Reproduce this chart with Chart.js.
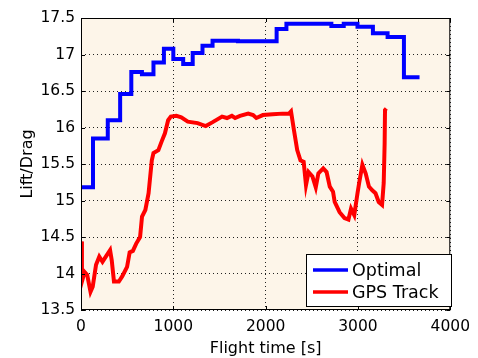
<!DOCTYPE html>
<html>
<head>
<meta charset="utf-8">
<script src="https://cdn.jsdelivr.net/npm/chart.js@4"></script>
<style>
  html, body { margin: 0; padding: 0; background: #ffffff; }
  #wrap { width: 478px; height: 358px; }
</style>
</head>
<body>
<div id="wrap"><canvas id="ldChart" width="478" height="358"></canvas></div>
<script>
// Optimal L/D schedule (step profile)
const optimalTime = [0, 130, 290, 424, 545, 660, 785, 898, 1000, 1107, 1210, 1316, 1425, 1700, 2119, 2225, 2712, 2846, 2995, 3162, 3321, 3498, 3667];
const optimalRatio = [15.18, 15.85, 16.10, 16.46, 16.76, 16.73, 16.89, 17.08, 16.94, 16.87, 17.02, 17.12, 17.19, 17.18, 17.35, 17.42, 17.39, 17.42, 17.38, 17.29, 17.24, 16.69, 16.69];

// L/D estimated from the GPS track
const gpsTime = [3, 10, 39, 67, 103, 127, 163, 198, 233, 269, 315, 333, 357, 410, 446, 499, 527, 562, 598, 640, 661, 697, 732, 767, 785, 838, 874, 909, 944, 973, 1033, 1086, 1157, 1263, 1351, 1422, 1528, 1581, 1634, 1669, 1722, 1811, 1864, 1899, 1970, 2076, 2182, 2253, 2275, 2306, 2342, 2377, 2412, 2437, 2465, 2507, 2543, 2571, 2624, 2660, 2695, 2730, 2748, 2801, 2854, 2897, 2925, 2960, 2995, 3013, 3048, 3084, 3119, 3155, 3190, 3225, 3261, 3279, 3289, 3293, 3307];
const gpsRatio = [14.44, 13.89, 14.02, 13.98, 13.75, 13.82, 14.12, 14.23, 14.16, 14.23, 14.32, 14.18, 13.89, 13.89, 13.96, 14.09, 14.29, 14.31, 14.41, 14.50, 14.78, 14.87, 15.10, 15.55, 15.65, 15.69, 15.81, 15.92, 16.10, 16.15, 16.16, 16.14, 16.08, 16.06, 16.02, 16.07, 16.15, 16.13, 16.16, 16.13, 16.16, 16.19, 16.17, 16.13, 16.17, 16.18, 16.19, 16.19, 16.22, 15.97, 15.69, 15.55, 15.53, 15.21, 15.39, 15.33, 15.18, 15.37, 15.44, 15.39, 15.19, 15.12, 14.98, 14.84, 14.76, 14.74, 14.89, 14.80, 15.10, 15.24, 15.49, 15.37, 15.19, 15.14, 15.10, 14.98, 14.94, 15.24, 15.78, 16.24, 16.26];

const xTickValues = [0, 1000, 2000, 3000, 4000];
const yTickValues = [13.5, 14, 14.5, 15, 15.5, 16, 16.5, 17, 17.5];

const FONT = '"DejaVu Sans", sans-serif';

const toPoints = (xs, ys) => xs.map((x, i) => ({ x: x, y: ys[i] }));

// beige plot area behind the grid
const plotBackground = {
    id: 'plotBackground',
    beforeDraw(chart) {
        const { ctx, chartArea: a } = chart;
        ctx.save();
        ctx.fillStyle = '#fdf5e9';
        ctx.fillRect(a.left, a.top, a.right - a.left, a.bottom - a.top);
        ctx.restore();
    }
};

// black frame with inward tick marks, and the boxed legend in the lower right
const frameAndLegend = {
    id: 'frameAndLegend',
    afterDatasetsDraw(chart) {
        const { ctx, chartArea: a, scales } = chart;
        ctx.save();
        ctx.strokeStyle = '#000';
        ctx.lineWidth = 1;
        ctx.strokeRect(a.left + 0.5, a.top + 0.5, a.right - a.left - 1, a.bottom - a.top - 1);
        const len = 4;
        ctx.beginPath();
        xTickValues.forEach(v => {
            const px = Math.round(scales.x.getPixelForValue(v)) + 0.5;
            ctx.moveTo(px, a.bottom); ctx.lineTo(px, a.bottom - len);
            ctx.moveTo(px, a.top); ctx.lineTo(px, a.top + len);
        });
        yTickValues.forEach(v => {
            const py = Math.round(scales.y.getPixelForValue(v)) + 0.5;
            ctx.moveTo(a.left, py); ctx.lineTo(a.left + len, py);
            ctx.moveTo(a.right, py); ctx.lineTo(a.right - len, py);
        });
        ctx.stroke();

        // legend box
        const bx = 306, by = 254, bw = 145, bh = 52;
        ctx.fillStyle = '#fff';
        ctx.fillRect(bx, by, bw, bh);
        ctx.strokeRect(bx + 0.5, by + 0.5, bw, bh);
        ctx.font = '17.5px ' + FONT;
        ctx.textBaseline = 'middle';
        ctx.textAlign = 'left';
        chart.data.datasets.forEach((ds, i) => {
            const y = by + 16 + i * 22;
            ctx.strokeStyle = ds.borderColor;
            ctx.lineWidth = 3.5;
            ctx.beginPath();
            ctx.moveTo(bx + 7, y);
            ctx.lineTo(bx + 42, y);
            ctx.stroke();
            ctx.fillStyle = '#000';
            ctx.fillText(ds.label, bx + 46, y + 1);
        });
        ctx.restore();
    }
};

new Chart(document.getElementById('ldChart'), {
    type: 'line',
    data: {
        datasets: [
            {
                label: 'Optimal',
                data: toPoints(optimalTime, optimalRatio),
                borderColor: '#0000ff',
                borderWidth: 4,
                stepped: 'before',
                pointRadius: 0,
                fill: false
            },
            {
                label: 'GPS Track',
                data: toPoints(gpsTime, gpsRatio),
                borderColor: '#ff0000',
                borderWidth: 4,
                pointRadius: 0,
                tension: 0,
                fill: false
            }
        ]
    },
    options: {
        responsive: false,
        animation: false,
        layout: { padding: { top: 18, right: 20, left: 0, bottom: 0 } },
        plugins: {
            legend: { display: false },
            tooltip: { enabled: false }
        },
        scales: {
            x: {
                type: 'linear',
                min: 0,
                max: 4000,
                afterBuildTicks: s => { s.ticks = xTickValues.map(v => ({ value: v })); },
                afterFit: s => { s.height = 48; },
                grid: {
                    color: '#222',
                    lineWidth: 1,
                    drawTicks: false
                },
                border: { display: false, dash: [1, 3] },
                ticks: {
                    padding: 8,
                    color: '#000',
                    font: { family: FONT, size: 15.5 },
                    callback: v => String(v)
                },
                title: {
                    display: true,
                    text: 'Flight time [s]',
                    color: '#000',
                    font: { family: FONT, size: 16 },
                    padding: { top: 4, bottom: 0 }
                }
            },
            y: {
                min: 13.5,
                max: 17.5,
                afterBuildTicks: s => { s.ticks = yTickValues.map(v => ({ value: v })); },
                afterFit: s => { s.width = 81; },
                grid: {
                    color: '#222',
                    lineWidth: 1,
                    drawTicks: false
                },
                border: { display: false, dash: [1, 3] },
                ticks: {
                    padding: 6,
                    color: '#000',
                    font: { family: FONT, size: 15.5 },
                    callback: v => String(v)
                },
                title: {
                    display: true,
                    text: 'Lift/Drag',
                    color: '#000',
                    font: { family: FONT, size: 16 },
                    padding: { top: 18, bottom: 0 }
                }
            }
        }
    },
    plugins: [plotBackground, frameAndLegend]
});
</script>
</body>
</html>
